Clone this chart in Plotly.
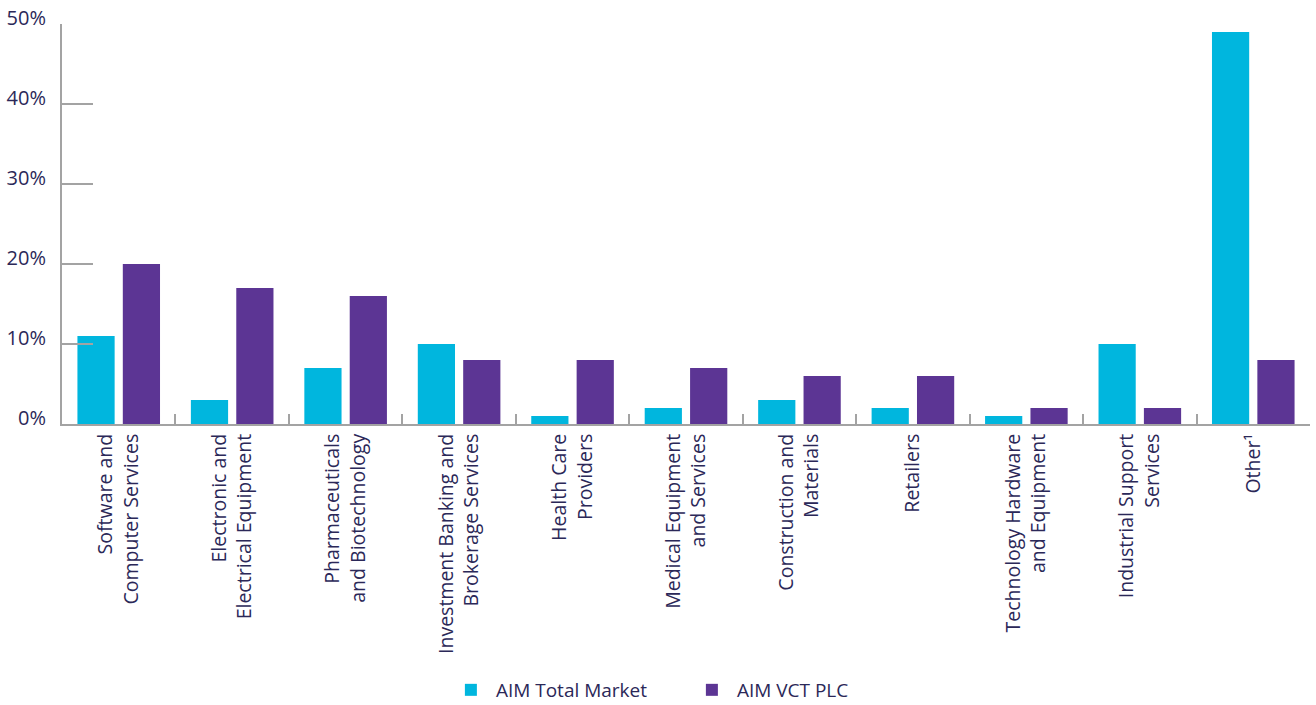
import plotly.graph_objects as go

categories = [
    "Software and<br>Computer Services",
    "Electronic and<br>Electrical Equipment",
    "Pharmaceuticals<br>and Biotechnology",
    "Investment Banking and<br>Brokerage Services",
    "Health Care<br>Providers",
    "Medical Equipment<br>and Services",
    "Construction and<br>Materials",
    "Retailers",
    "Technology Hardware<br>and Equipment",
    "Industrial Support<br>Services",
    "Other¹",
]
aim_total_market = [11, 3, 7, 10, 1, 2, 3, 2, 1, 10, 49]
aim_vct_plc = [20, 17, 16, 8, 8, 7, 6, 6, 2, 2, 8]
y_tick_vals = [0, 10, 20, 30, 40, 50]
y_tick_text = ["0%", "10%", "20%", "30%", "40%", "50%"]

CYAN = "#00B6DE"
PURPLE = "#5C3594"
TEXT = "#2B2858"
GREY = "#A3A3A3"
FONT = "Open Sans"
WEIGHT = 400

fig = go.Figure()
fig.add_trace(go.Bar(name="AIM Total Market", x=categories, y=aim_total_market,
                     marker=dict(color=CYAN, line=dict(width=0))))
fig.add_trace(go.Bar(name="AIM VCT PLC", x=categories, y=aim_vct_plc,
                     marker=dict(color=PURPLE, line=dict(width=0))))

fig.update_layout(
    width=1316, height=705,
    margin=dict(l=62, r=6, t=24, b=281),
    paper_bgcolor="white", plot_bgcolor="white",
    barmode="group", bargap=0.2, bargroupgap=0.18,
    font=dict(family=FONT, color=TEXT, size=19, weight=WEIGHT),
    legend=dict(orientation="h", x=0.3076, xanchor="left",
                yref="container", y=0.0213, yanchor="middle",
                font=dict(size=19, color=TEXT, weight=WEIGHT), itemwidth=40, entrywidth=186,
                traceorder="normal"),
    showlegend=True,
)
fig.update_xaxes(
    type="category", tickangle=-90, tickson="boundaries",
    ticks="inside", ticklen=10, tickwidth=2, tickcolor=GREY,
    showline=True, linecolor=GREY, linewidth=2, showgrid=False,
    tickfont=dict(size=19.5, color=TEXT, weight=WEIGHT), range=[-0.5, 10.5], automargin=False,
)
fig.update_yaxes(
    range=[0, 50], tickvals=y_tick_vals, ticktext=y_tick_text,
    ticks="inside", ticklen=31, tickwidth=2, tickcolor=GREY,
    showline=True, linecolor=GREY, linewidth=2, showgrid=False, zeroline=False,
    tickfont=dict(size=20, color=TEXT, weight=WEIGHT), ticklabelstandoff=10, ticklabelshift=-6,
    automargin=False,
)

fig.write_html(
    "out.html",
    config={"displayModeBar": False},
    post_script="document.body.style.margin='0px';document.body.style.overflow='hidden';",
)
